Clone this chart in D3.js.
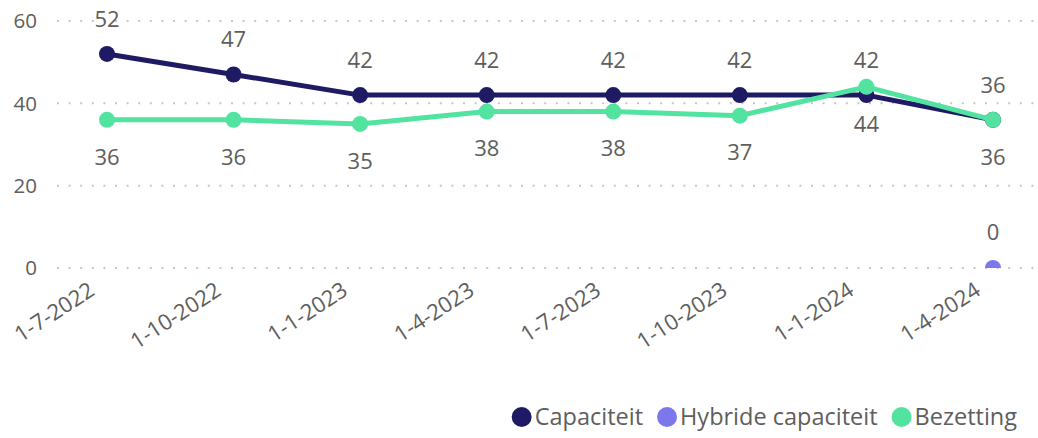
<!DOCTYPE html>
<html>
<head>
<meta charset="utf-8">
<script src="https://cdn.jsdelivr.net/npm/d3@7"></script>
<style>
    body { margin: 0; background: #fff; }
    text { font-family: "Segoe UI", "Open Sans", sans-serif; fill: #605E5C; }
</style>
</head>
<body>
<div id="chart"></div>
<script>
// Quarterly capacity vs occupancy
const dates = ['1-7-2022', '1-10-2022', '1-1-2023', '1-4-2023', '1-7-2023', '1-10-2023', '1-1-2024', '1-4-2024'];
const capaciteit = [52, 47, 42, 42, 42, 42, 42, 36];
const hybride = [null, null, null, null, null, null, null, 0];
const bezetting = [36, 36, 35, 38, 38, 37, 44, 36];
const yTicks = [0, 20, 40, 60];

const series = [
    { name: 'Capaciteit', values: capaciteit, color: '#1E1A63', labelDy: -35 },
    { name: 'Hybride capaciteit', values: hybride, color: '#7B78EE', labelDy: -36 },
    { name: 'Bezetting', values: bezetting, color: '#52E3A0', labelDy: 37 }
];

const width = 1038, height = 438;
const svg = d3.select('#chart').append('svg')
    .attr('width', width)
    .attr('height', height);

const x = d3.scalePoint().domain(dates).range([107, 993]);
const y = d3.scaleLinear().domain([0, 60]).range([268, 21]);

// Gridlines + y labels
const grid = svg.append('g');
grid.selectAll('line')
    .data(yTicks)
    .enter()
    .append('line')
    .attr('x1', 57)
    .attr('x2', width)
    .attr('y1', d => y(d))
    .attr('y2', d => y(d))
    .attr('stroke', '#C8C6C4')
    .attr('stroke-width', 2)
    .attr('stroke-dasharray', '2,9.6');

grid.selectAll('text')
    .data(yTicks)
    .enter()
    .append('text')
    .attr('x', 37)
    .attr('y', d => y(d))
    .attr('dy', '0.35em')
    .attr('text-anchor', 'end')
    .style('font-size', '20.5px')
    .text(d => d);

// X labels
svg.append('g').selectAll('text')
    .data(dates)
    .enter()
    .append('text')
    .attr('transform', d => `translate(${x(d) - 11},294) rotate(-33)`)
    .attr('text-anchor', 'end')
    .style('font-size', '22px')
    .text(d => d);

// Plot clip (points at 0 get cut off at axis)
svg.append('clipPath').attr('id', 'plot-clip')
    .append('rect')
    .attr('x', 0).attr('y', 0)
    .attr('width', width).attr('height', y(0));

const plot = svg.append('g').attr('clip-path', 'url(#plot-clip)');

const line = d3.line()
    .defined(d => d.v !== null)
    .x(d => x(d.date))
    .y(d => y(d.v));

series.forEach(s => {
    const pts = dates.map((date, i) => ({ date, v: s.values[i] }));
    const g = plot.append('g');
    g.append('path')
        .datum(pts)
        .attr('d', line)
        .attr('fill', 'none')
        .attr('stroke', s.color)
        .attr('stroke-width', 5)
        .attr('stroke-linejoin', 'round');
    g.selectAll('circle')
        .data(pts.filter(d => d.v !== null))
        .enter()
        .append('circle')
        .attr('cx', d => x(d.date))
        .attr('cy', d => y(d.v))
        .attr('r', 8)
        .attr('fill', s.color);
    s.points = pts;
});

// Data labels
series.forEach(s => {
    svg.append('g').selectAll('text')
        .data(s.points.filter(d => d.v !== null))
        .enter()
        .append('text')
        .attr('x', d => x(d.date))
        .attr('y', d => y(d.v) + s.labelDy)
        .attr('dy', '0.35em')
        .attr('text-anchor', 'middle')
        .style('font-size', '22px')
        .text(d => d.v);
});

// Legend, right aligned
const legend = svg.append('g');
let cursor = 0;
series.forEach((s, i) => {
    const item = legend.append('g').attr('transform', `translate(${cursor},0)`);
    item.append('circle')
        .attr('cx', 10)
        .attr('cy', 417)
        .attr('r', 10)
        .attr('fill', s.color);
    const t = item.append('text')
        .attr('x', 23)
        .attr('y', 417)
        .attr('dy', '0.35em')
        .style('font-size', '23.5px')
        .text(s.name);
    cursor += 23 + t.node().getComputedTextLength() + 14;
});
legend.attr('transform', `translate(${1017 - (cursor - 14)},0)`);
</script>
</body>
</html>
